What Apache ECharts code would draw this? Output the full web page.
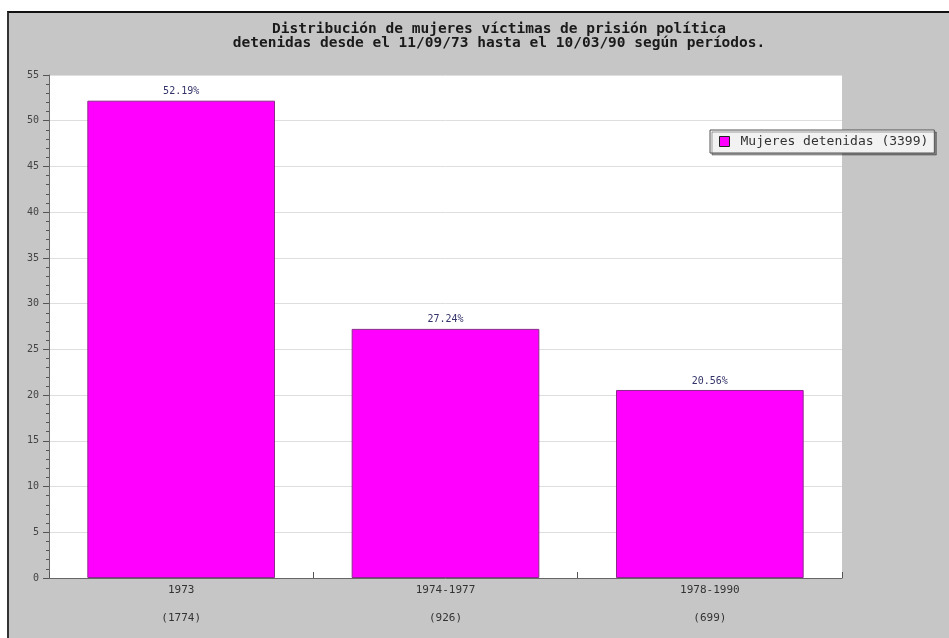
<!DOCTYPE html>
<html>
<head>
<meta charset="utf-8">
<script src="https://cdn.jsdelivr.net/npm/echarts@6/dist/echarts.min.js"></script>
<style>
html,body{margin:0;padding:0;background:#fff;}
#bg{position:absolute;left:7px;top:11px;width:942px;height:627px;background:#c6c6c6;border-left:2px solid #333;border-top:2px solid #111;box-sizing:border-box;}
#chart{position:absolute;left:0;top:0;width:949px;height:638px;}
</style>
</head>
<body>
<div id="bg"></div>
<div id="chart"></div>
<script>
const categories = ['1973', '1974-1977', '1978-1990'];
const counts = ['(1774)', '(926)', '(699)'];
const percentages = [52.19, 27.24, 20.56];
const seriesName = 'Mujeres detenidas (3399)';
const titleLines = ['Distribución de mujeres víctimas de prisión política', 'detenidas desde el 11/09/73 hasta el 10/03/90 según períodos.'];
const yTicks = {min: 0, max: 55, interval: 5};

const mono = '"DejaVu Sans Mono", "Liberation Mono", monospace';
const chart = echarts.init(document.getElementById('chart'), null, {renderer: 'canvas'});
chart.setOption({
  backgroundColor: 'transparent',
  animation: false,
  title: {
    text: titleLines.join('\n'),
    left: 494,
    top: 17,
    textAlign: 'center',
    textStyle: {fontFamily: mono, fontSize: 14.5, fontWeight: 'bold', color: '#1a1a1a', lineHeight: 14}
  },
  legend: {
    data: [seriesName],
    left: 710,
    top: 130,
    orient: 'vertical',
    icon: 'rect',
    itemWidth: 10,
    itemHeight: 10,
    itemGap: 0,
    padding: [5, 6, 5, 9],
    backgroundColor: '#f2f2f2',
    borderColor: '#555',
    borderWidth: 1,
    shadowColor: 'rgba(0,0,0,0.35)',
    shadowBlur: 0,
    shadowOffsetX: 2,
    shadowOffsetY: 2,
    textStyle: {fontFamily: mono, fontSize: 13, color: '#333', padding: [0, 0, 0, 6]},
    itemStyle: {borderColor: '#222', borderWidth: 1}
  },
  grid: {
    left: 49, top: 75, right: 107, bottom: 60,
    show: true, backgroundColor: '#ffffff', borderWidth: 0
  },
  xAxis: {
    type: 'category',
    data: categories,
    axisLine: {lineStyle: {color: '#666', width: 1}},
    axisTick: {show: true, inside: true, length: 6, lineStyle: {color: '#555'}},
    axisLabel: {
      fontFamily: mono, fontSize: 11, color: '#333', margin: -2, lineHeight: 28,
      formatter: function (v, i) { return v + '\n' + counts[i]; }
    },
    splitLine: {show: false}
  },
  yAxis: {
    type: 'value',
    min: yTicks.min, max: yTicks.max, interval: yTicks.interval,
    axisLine: {show: true, lineStyle: {color: '#666', width: 1}},
    axisTick: {show: true, length: 6, lineStyle: {color: '#555'}},
    minorTick: {show: true, splitNumber: 5, length: 3, lineStyle: {color: '#555'}},
    axisLabel: {fontFamily: mono, fontSize: 10, color: '#444', margin: 10},
    splitLine: {show: true, lineStyle: {color: '#dedede', width: 1}}
  },
  series: [{
    name: seriesName,
    type: 'bar',
    data: percentages,
    barWidth: '71%',
    itemStyle: {color: '#ff00ff', borderColor: '#8a2a8a', borderWidth: 1},
    label: {
      show: true, position: 'top', distance: 4,
      fontFamily: mono, fontSize: 10, color: '#33336a',
      formatter: function (p) { return p.value.toFixed(2) + '%'; }
    }
  }]
});
</script>
</body>
</html>
